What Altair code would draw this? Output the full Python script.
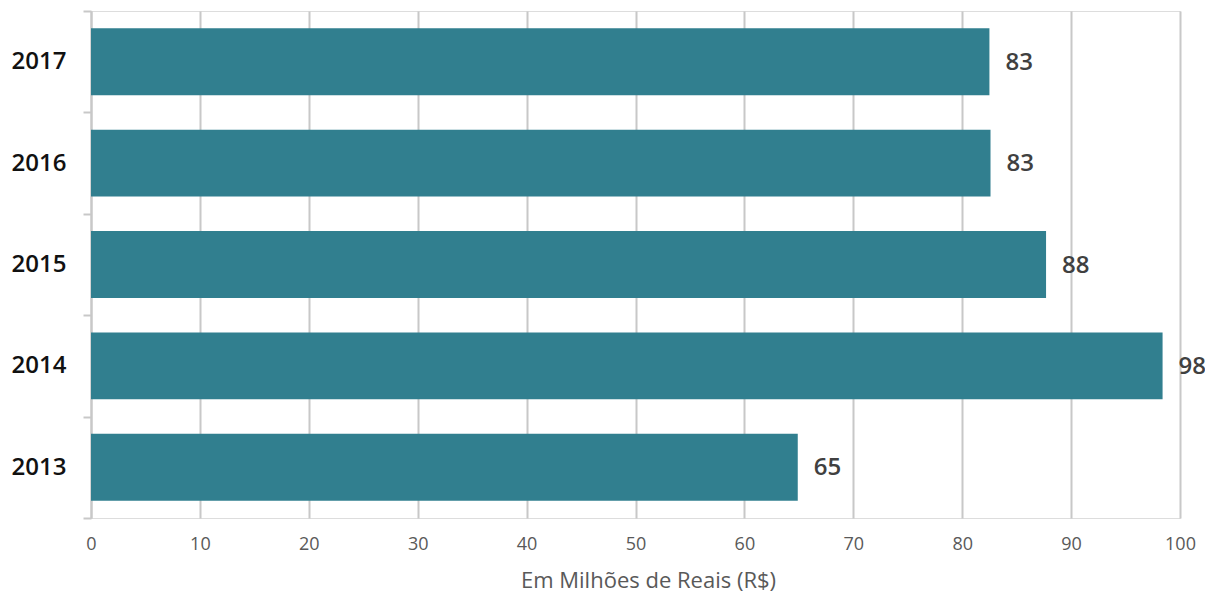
import altair as alt
import pandas as pd

years = ["2017", "2016", "2015", "2014", "2013"]
values = [82.5, 82.6, 87.7, 98.4, 64.9]
labels = ["83", "83", "88", "98", "65"]

df = pd.DataFrame({"ano": years, "valor": values, "rotulo": labels})

FONT = "Open Sans"

y_enc = alt.Y(
    "ano:N",
    sort=years,
    scale=alt.Scale(paddingInner=0, paddingOuter=0),
    axis=alt.Axis(
        title=None,
        domainColor="#c8c8c8",
        domainWidth=2,
        tickColor="#c8c8c8",
        tickWidth=2,
        tickSize=8,
        tickBand="extent",
        labelFont=FONT,
        labelFontSize=24,
        labelFontWeight=600,
        labelColor="#111111",
        labelPadding=17,
        grid=False,
    ),
)

x_enc = alt.X(
    "valor:Q",
    scale=alt.Scale(domain=[0, 100], nice=False),
    axis=alt.Axis(
        title="Em Milhões de Reais (R$)",
        titleFont=FONT,
        titleFontSize=22,
        titleFontWeight=400,
        titleColor="#595959",
        titleX=557,
        titleY=69,
        titleAlign="center",
        titleBaseline="alphabetic",
        values=list(range(0, 101, 10)),
        domain=False,
        ticks=False,
        grid=True,
        gridColor="#c8c8c8",
        gridWidth=2,
        labelFont=FONT,
        labelFontSize=18,
        labelFontWeight=400,
        labelColor="#595959",
        labelPadding=17,
        labelFlush=False,
    ),
)

bars = alt.Chart(df).mark_bar(
    color="#317F8F", height=alt.RelativeBandSize(band=0.66)
).encode(x=x_enc, y=y_enc)

text = alt.Chart(df).mark_text(
    align="left", baseline="middle", dx=16, dy=1,
    font=FONT, fontSize=24, fontWeight=600, color="#404040"
).encode(x="valor:Q", y=alt.Y("ano:N", sort=years), text="rotulo:N")

chart = (bars + text).properties(
    width=1197, height=585,
    autosize=alt.AutoSizeParams(type="fit", contains="padding"),
    padding={"left": 3, "top": -9, "right": 0, "bottom": 2},
).configure_view(stroke=None).configure(background="white")

chart.save("out.html", embed_options={"renderer": "svg", "actions": False})
